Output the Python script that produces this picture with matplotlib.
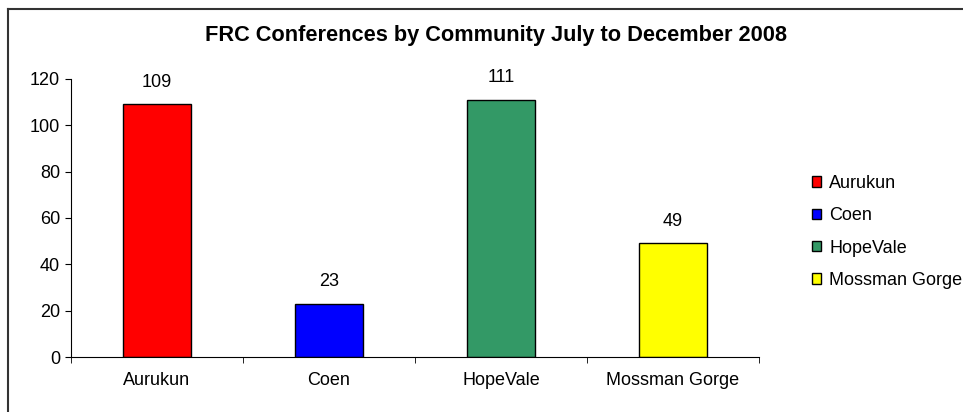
import matplotlib
matplotlib.use("Agg")
import matplotlib.pyplot as plt
from matplotlib.patches import Patch
from matplotlib.lines import Line2D

categories = ["Aurukun", "Coen", "HopeVale", "Mossman Gorge"]
values = [109, 23, 111, 49]
colors = ["#FF0000", "#0000FF", "#339966", "#FFFF00"]
yticks = [0, 20, 40, 60, 80, 100, 120]
title = "FRC Conferences by Community July to December 2008"

plt.rcParams['font.family'] = ['Liberation Sans', 'DejaVu Sans']
FS = 13

fig = plt.figure(figsize=(9.63, 4.12), dpi=100)
ax = fig.add_axes([71/963, 1-357/412, (759-71)/963, (357-79)/412])

x = list(range(len(categories)))
ax.bar(x, values, width=0.4, color=colors, edgecolor="black", linewidth=1)
for xi, v in zip(x, values):
    ax.annotate(str(v), (xi, v), xytext=(0, 10), textcoords="offset points",
                ha="center", va="bottom", fontsize=FS)

ax.set_xlim(-0.5, len(categories) - 0.5)
ax.set_ylim(0, 120)
ax.set_yticks(yticks)
ax.set_xticks(x)
ax.set_xticklabels(categories, fontsize=FS)
ax.set_xticks([i - 0.5 for i in range(len(categories) + 1)], minor=True)
ax.tick_params(axis="x", which="major", length=0, pad=11)
ax.tick_params(axis="x", which="minor", length=4, direction="out")
ax.tick_params(axis="y", labelsize=FS, length=4, direction="out", pad=4)
for s in ["top", "right"]:
    ax.spines[s].set_visible(False)
for s in ["left", "bottom"]:
    ax.spines[s].set_linewidth(0.8)

fig.text(496/963, 1-35/412, title, ha="center", va="center", fontsize=15.7, fontweight="bold")

handles = [Patch(facecolor=c, edgecolor="black", linewidth=1) for c in colors]
fig.legend(handles, categories, loc="center left", bbox_to_anchor=(812/963, 1-232/412),
           frameon=False, fontsize=FS, handlelength=0.5, handleheight=0.5,
           labelspacing=0.85, handletextpad=0.45, borderpad=0, borderaxespad=0)

fig.add_artist(Line2D([8/963, 8/963], [0, 1-9/412], color="#333333", linewidth=1.5, transform=fig.transFigure))
fig.add_artist(Line2D([8/963, 1], [1-9/412, 1-9/412], color="#333333", linewidth=1.5, transform=fig.transFigure))

fig.savefig("out.png", dpi=100)
